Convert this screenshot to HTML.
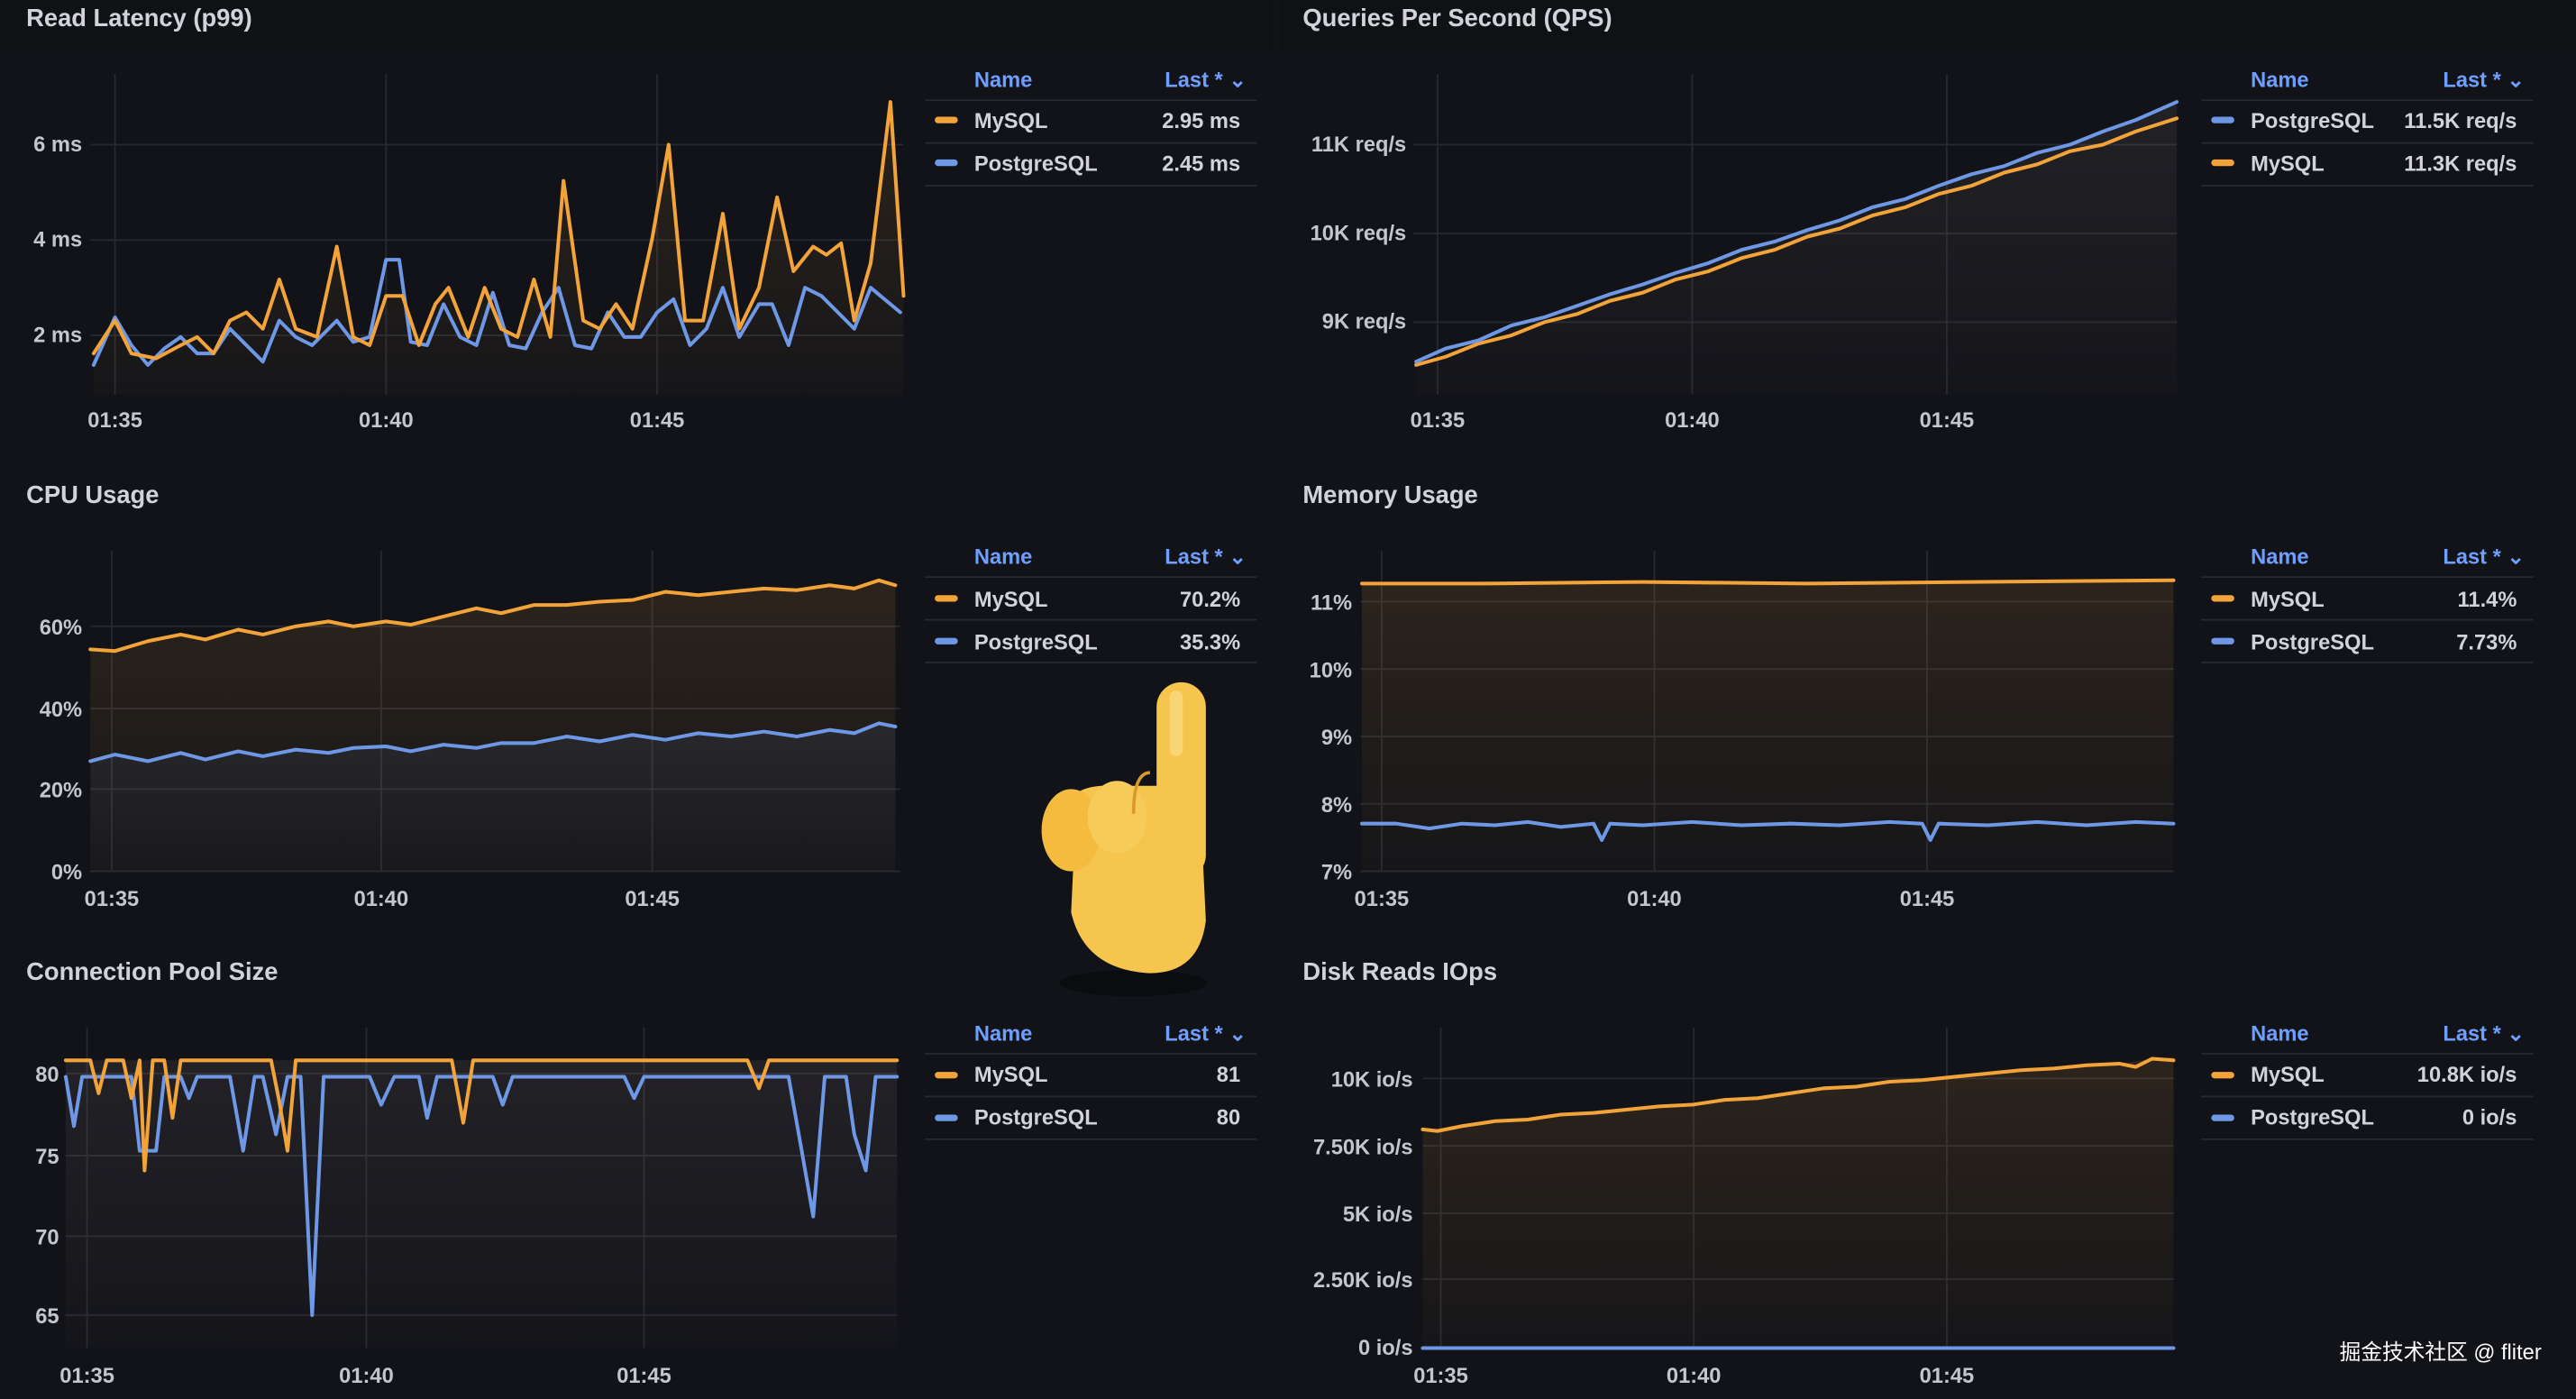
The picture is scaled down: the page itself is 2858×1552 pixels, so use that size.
<!DOCTYPE html>
<html><head><meta charset="utf-8"><style>
html,body{margin:0;padding:0;background:#121318;}
svg{display:block}
text{font-family:"Liberation Sans","Noto Sans CJK SC",sans-serif;font-weight:bold;}
.t{fill:#d2d3da;font-size:15px}
.k{fill:#c4c5ce;font-size:13px}
.g{stroke:#272930;stroke-width:1}
.h{fill:#6e9fff;font-size:13px}
.l{fill:#d2d3da;font-size:13px}
.s{stroke:#272930;stroke-width:1}
.o{fill:none;stroke:#f2a33a;stroke-width:2.2;stroke-linejoin:round;stroke-linecap:round}
.b{fill:none;stroke:#6e98e6;stroke-width:2.2;stroke-linejoin:round;stroke-linecap:round}
</style></head><body>
<svg width="2858" height="1552" viewBox="0 0 1568 851" preserveAspectRatio="none" xmlns="http://www.w3.org/2000/svg">
<defs>
<linearGradient id="fo" x1="0" y1="0" x2="0" y2="1"><stop offset="0" stop-color="#f2a33a" stop-opacity="0.12"/><stop offset="1" stop-color="#f2a33a" stop-opacity="0.02"/></linearGradient>
<linearGradient id="fb" x1="0" y1="0" x2="0" y2="1"><stop offset="0" stop-color="#6e98e6" stop-opacity="0.09"/><stop offset="1" stop-color="#6e98e6" stop-opacity="0.02"/></linearGradient>
<linearGradient id="fg" x1="0" y1="0" x2="0" y2="1"><stop offset="0" stop-color="#8a7a80" stop-opacity="0.14"/><stop offset="1" stop-color="#8a7a80" stop-opacity="0.02"/></linearGradient>
</defs>
<rect width="1568" height="851" fill="#121318"/>
<rect x="0" y="0" width="775" height="30" fill="#101115"/>
<rect x="778" y="0" width="790" height="30" fill="#101115"/>

<!-- Panel 1 Read Latency -->
<text x="16" y="16" class="t">Read Latency (p99)</text>
<g class="g"><line x1="55" y1="88" x2="550" y2="88"/><line x1="55" y1="146" x2="550" y2="146"/><line x1="55" y1="204" x2="550" y2="204"/><line x1="70" y1="45" x2="70" y2="240"/><line x1="235" y1="45" x2="235" y2="240"/><line x1="400" y1="45" x2="400" y2="240"/></g>
<text x="50" y="92" class="k" text-anchor="end">6 ms</text><text x="50" y="150" class="k" text-anchor="end">4 ms</text><text x="50" y="208" class="k" text-anchor="end">2 ms</text>
<text x="70" y="260" class="k" text-anchor="middle">01:35</text><text x="235" y="260" class="k" text-anchor="middle">01:40</text><text x="400" y="260" class="k" text-anchor="middle">01:45</text>
<polygon fill="url(#fo)" points="57,215 70,195 80,215 95,218 110,210 120,205 130,215 140,195 150,190 160,200 170,170 180,200 193,205 205,150 215,205 225,210 235,180 245,180 255,210 265,185 273,175 285,205 295,175 305,200 315,205 325,170 335,205 343,110 355,195 365,200 375,185 385,200 397,145 407,88 417,195 428,195 440,130 450,200 462,175 473,120 483,165 495,150 503,155 512,148 520,195 530,160 542,62 550,180 550,240 57,240"/>
<polyline class="b" points="57,222 70,193 80,210 90,222 100,212 110,205 120,215 130,215 140,200 150,210 160,220 170,195 180,205 190,210 205,195 215,208 225,205 235,158 243,158 250,208 260,210 270,185 280,205 290,210 300,178 310,210 320,212 330,190 340,175 350,210 360,212 370,190 380,205 390,205 400,190 410,182 420,210 430,200 440,175 450,205 462,185 470,185 480,210 490,175 500,180 510,190 520,200 530,175 548,190"/>
<polyline class="o" points="57,215 70,195 80,215 95,218 110,210 120,205 130,215 140,195 150,190 160,200 170,170 180,200 193,205 205,150 215,205 225,210 235,180 245,180 255,210 265,185 273,175 285,205 295,175 305,200 315,205 325,170 335,205 343,110 355,195 365,200 375,185 385,200 397,145 407,88 417,195 428,195 440,130 450,200 462,175 473,120 483,165 495,150 503,155 512,148 520,195 530,160 542,62 550,180"/>
<g>
<text x="593" y="53" class="h">Name</text><text x="709" y="53" class="h">Last * ⌄</text>
<g class="s"><line x1="563" y1="61" x2="765" y2="61"/><line x1="563" y1="87" x2="765" y2="87"/><line x1="563" y1="113" x2="765" y2="113"/></g>
<rect x="569" y="71" width="14" height="4" rx="2" fill="#f2a33a"/><text x="593" y="78" class="l">MySQL</text><text x="755" y="78" class="l" text-anchor="end">2.95 ms</text>
<rect x="569" y="97" width="14" height="4" rx="2" fill="#6e98e6"/><text x="593" y="104" class="l">PostgreSQL</text><text x="755" y="104" class="l" text-anchor="end">2.45 ms</text>
</g>

<!-- Panel 2 QPS -->
<text x="793" y="16" class="t">Queries Per Second (QPS)</text>
<g class="g"><line x1="860" y1="88" x2="1325" y2="88"/><line x1="860" y1="142" x2="1325" y2="142"/><line x1="860" y1="196" x2="1325" y2="196"/><line x1="875" y1="45" x2="875" y2="240"/><line x1="1030" y1="45" x2="1030" y2="240"/><line x1="1185" y1="45" x2="1185" y2="240"/></g>
<text x="856" y="92" class="k" text-anchor="end">11K req/s</text><text x="856" y="146" class="k" text-anchor="end">10K req/s</text><text x="856" y="200" class="k" text-anchor="end">9K req/s</text>
<text x="875" y="260" class="k" text-anchor="middle">01:35</text><text x="1030" y="260" class="k" text-anchor="middle">01:40</text><text x="1185" y="260" class="k" text-anchor="middle">01:45</text>
<polygon fill="url(#fg)" points="862,220 880,212 900,207 920,198 940,193 960,186 980,179 1000,173 1020,166 1040,160 1060,152 1080,147 1100,140 1120,134 1140,126 1160,121 1180,113 1200,106 1220,101 1240,93 1260,88 1280,80 1300,73 1325,62 1325,240 862,240"/>
<polyline class="o" points="862,222 880,217 900,209 920,204 940,196 960,191 980,183 1000,178 1020,170 1040,165 1060,157 1080,152 1100,144 1120,139 1140,131 1160,126 1180,118 1200,113 1220,105 1240,100 1260,92 1280,88 1300,80 1325,72"/>
<polyline class="b" points="862,220 880,212 900,207 920,198 940,193 960,186 980,179 1000,173 1020,166 1040,160 1060,152 1080,147 1100,140 1120,134 1140,126 1160,121 1180,113 1200,106 1220,101 1240,93 1260,88 1280,80 1300,73 1325,62"/>
<g>
<text x="1370" y="53" class="h">Name</text><text x="1487" y="53" class="h">Last * ⌄</text>
<g class="s"><line x1="1340" y1="61" x2="1542" y2="61"/><line x1="1340" y1="87" x2="1542" y2="87"/><line x1="1340" y1="113" x2="1542" y2="113"/></g>
<rect x="1346" y="71" width="14" height="4" rx="2" fill="#6e98e6"/><text x="1370" y="78" class="l">PostgreSQL</text><text x="1532" y="78" class="l" text-anchor="end">11.5K req/s</text>
<rect x="1346" y="97" width="14" height="4" rx="2" fill="#f2a33a"/><text x="1370" y="104" class="l">MySQL</text><text x="1532" y="104" class="l" text-anchor="end">11.3K req/s</text>
</g>

<!-- Panel 3 CPU -->
<text x="16" y="306" class="t">CPU Usage</text>
<g class="g"><line x1="55" y1="381" x2="548" y2="381"/><line x1="55" y1="431" x2="548" y2="431"/><line x1="55" y1="480" x2="548" y2="480"/><line x1="55" y1="530" x2="548" y2="530"/><line x1="68" y1="335" x2="68" y2="530"/><line x1="232" y1="335" x2="232" y2="530"/><line x1="397" y1="335" x2="397" y2="530"/></g>
<text x="50" y="386" class="k" text-anchor="end">60%</text><text x="50" y="436" class="k" text-anchor="end">40%</text><text x="50" y="485" class="k" text-anchor="end">20%</text><text x="50" y="535" class="k" text-anchor="end">0%</text>
<text x="68" y="551" class="k" text-anchor="middle">01:35</text><text x="232" y="551" class="k" text-anchor="middle">01:40</text><text x="397" y="551" class="k" text-anchor="middle">01:45</text>
<polygon fill="url(#fo)" points="55,395 70,396 90,390 110,386 125,389 145,383 160,386 180,381 200,378 215,381 235,378 250,380 270,375 290,370 305,373 325,368 345,368 365,366 385,365 405,360 425,362 445,360 465,358 485,359 505,356 520,358 535,353 545,356 545,530 55,530"/>
<polygon fill="url(#fb)" points="55,463 70,459 90,463 110,458 125,462 145,457 160,460 180,456 200,458 215,455 235,454 250,457 270,453 290,455 305,452 325,452 345,448 365,451 385,447 405,450 425,446 445,448 465,445 485,448 505,444 520,446 535,440 545,442 545,530 55,530"/>
<polyline class="o" points="55,395 70,396 90,390 110,386 125,389 145,383 160,386 180,381 200,378 215,381 235,378 250,380 270,375 290,370 305,373 325,368 345,368 365,366 385,365 405,360 425,362 445,360 465,358 485,359 505,356 520,358 535,353 545,356"/>
<polyline class="b" points="55,463 70,459 90,463 110,458 125,462 145,457 160,460 180,456 200,458 215,455 235,454 250,457 270,453 290,455 305,452 325,452 345,448 365,451 385,447 405,450 425,446 445,448 465,445 485,448 505,444 520,446 535,440 545,442"/>
<g>
<text x="593" y="343" class="h">Name</text><text x="709" y="343" class="h">Last * ⌄</text>
<g class="s"><line x1="563" y1="351" x2="765" y2="351"/><line x1="563" y1="377" x2="765" y2="377"/><line x1="563" y1="403" x2="765" y2="403"/></g>
<rect x="569" y="362" width="14" height="4" rx="2" fill="#f2a33a"/><text x="593" y="369" class="l">MySQL</text><text x="755" y="369" class="l" text-anchor="end">70.2%</text>
<rect x="569" y="388" width="14" height="4" rx="2" fill="#6e98e6"/><text x="593" y="395" class="l">PostgreSQL</text><text x="755" y="395" class="l" text-anchor="end">35.3%</text>
</g>

<!-- Hand -->
<g>
<ellipse cx="690" cy="598" rx="45" ry="8" fill="#000" opacity="0.35"/>
<rect x="704" y="415" width="30" height="120" rx="15" fill="#f6c54e"/>
<path d="M655,490 Q650,480 670,478 L730,478 L734,560 Q730,592 700,592 Q660,590 652,555 Z" fill="#f6c54e"/>
<ellipse cx="652" cy="505" rx="18" ry="25" fill="#f4bb3e"/>
<ellipse cx="680" cy="497" rx="18" ry="22" fill="#f7cb5a"/>
<path d="M700,470 Q690,470 690,495" stroke="#d99a2a" stroke-width="2" fill="none"/>
<rect x="712" y="420" width="8" height="40" rx="4" fill="#fbdc86" opacity="0.7"/>
</g>

<!-- Panel 4 Memory -->
<text x="793" y="306" class="t">Memory Usage</text>
<g class="g"><line x1="828" y1="366" x2="1323" y2="366"/><line x1="828" y1="407" x2="1323" y2="407"/><line x1="828" y1="448" x2="1323" y2="448"/><line x1="828" y1="489" x2="1323" y2="489"/><line x1="828" y1="530" x2="1323" y2="530"/><line x1="841" y1="335" x2="841" y2="530"/><line x1="1007" y1="335" x2="1007" y2="530"/><line x1="1173" y1="335" x2="1173" y2="530"/></g>
<text x="823" y="371" class="k" text-anchor="end">11%</text><text x="823" y="412" class="k" text-anchor="end">10%</text><text x="823" y="453" class="k" text-anchor="end">9%</text><text x="823" y="494" class="k" text-anchor="end">8%</text><text x="823" y="535" class="k" text-anchor="end">7%</text>
<text x="841" y="551" class="k" text-anchor="middle">01:35</text><text x="1007" y="551" class="k" text-anchor="middle">01:40</text><text x="1173" y="551" class="k" text-anchor="middle">01:45</text>
<rect x="829" y="354" width="494" height="176" fill="url(#fo)"/>
<polyline class="o" points="829,355 900,355 1000,354 1100,355 1200,354 1323,353"/>
<polyline class="b" points="829,501 850,501 870,504 890,501 910,502 930,500 950,503 970,501 975,511 980,501 1000,502 1030,500 1060,502 1090,501 1120,502 1150,500 1170,501 1175,511 1180,501 1210,502 1240,500 1270,502 1300,500 1323,501"/>
<g>
<text x="1370" y="343" class="h">Name</text><text x="1487" y="343" class="h">Last * ⌄</text>
<g class="s"><line x1="1340" y1="351" x2="1542" y2="351"/><line x1="1340" y1="377" x2="1542" y2="377"/><line x1="1340" y1="403" x2="1542" y2="403"/></g>
<rect x="1346" y="362" width="14" height="4" rx="2" fill="#f2a33a"/><text x="1370" y="369" class="l">MySQL</text><text x="1532" y="369" class="l" text-anchor="end">11.4%</text>
<rect x="1346" y="388" width="14" height="4" rx="2" fill="#6e98e6"/><text x="1370" y="395" class="l">PostgreSQL</text><text x="1532" y="395" class="l" text-anchor="end">7.73%</text>
</g>

<!-- Panel 5 Connection Pool -->
<text x="16" y="596" class="t">Connection Pool Size</text>
<g class="g"><line x1="40" y1="653" x2="546" y2="653"/><line x1="40" y1="703" x2="546" y2="703"/><line x1="40" y1="752" x2="546" y2="752"/><line x1="40" y1="800" x2="546" y2="800"/><line x1="53" y1="625" x2="53" y2="820"/><line x1="223" y1="625" x2="223" y2="820"/><line x1="392" y1="625" x2="392" y2="820"/></g>
<text x="36" y="658" class="k" text-anchor="end">80</text><text x="36" y="708" class="k" text-anchor="end">75</text><text x="36" y="757" class="k" text-anchor="end">70</text><text x="36" y="805" class="k" text-anchor="end">65</text>
<text x="53" y="841" class="k" text-anchor="middle">01:35</text><text x="223" y="841" class="k" text-anchor="middle">01:40</text><text x="392" y="841" class="k" text-anchor="middle">01:45</text>
<rect x="40" y="645" width="506" height="175" fill="url(#fg)"/>
<polyline class="b" points="40,655 45,685 50,655 80,655 85,700 95,700 100,655 110,655 115,668 120,655 140,655 148,700 155,655 160,655 168,690 175,655 183,655 190,800 197,655 225,655 232,672 240,655 255,655 260,680 266,655 300,655 306,672 312,655 380,655 386,668 392,655 470,655 480,655 488,700 495,740 502,655 515,655 520,690 527,712 533,655 546,655"/>
<polyline class="o" points="40,645 55,645 60,665 65,645 75,645 80,668 85,645 88,712 93,645 100,645 105,680 110,645 165,645 170,670 175,700 180,645 275,645 282,683 288,645 455,645 462,662 468,645 546,645"/>
<g>
<text x="593" y="633" class="h">Name</text><text x="709" y="633" class="h">Last * ⌄</text>
<g class="s"><line x1="563" y1="641" x2="765" y2="641"/><line x1="563" y1="667" x2="765" y2="667"/><line x1="563" y1="693" x2="765" y2="693"/></g>
<rect x="569" y="652" width="14" height="4" rx="2" fill="#f2a33a"/><text x="593" y="658" class="l">MySQL</text><text x="755" y="658" class="l" text-anchor="end">81</text>
<rect x="569" y="678" width="14" height="4" rx="2" fill="#6e98e6"/><text x="593" y="684" class="l">PostgreSQL</text><text x="755" y="684" class="l" text-anchor="end">80</text>
</g>

<!-- Panel 6 Disk -->
<text x="793" y="596" class="t">Disk Reads IOps</text>
<g class="g"><line x1="866" y1="656" x2="1323" y2="656"/><line x1="866" y1="697" x2="1323" y2="697"/><line x1="866" y1="738" x2="1323" y2="738"/><line x1="866" y1="778" x2="1323" y2="778"/><line x1="877" y1="625" x2="877" y2="820"/><line x1="1031" y1="625" x2="1031" y2="820"/><line x1="1185" y1="625" x2="1185" y2="820"/></g>
<text x="860" y="661" class="k" text-anchor="end">10K io/s</text><text x="860" y="702" class="k" text-anchor="end">7.50K io/s</text><text x="860" y="743" class="k" text-anchor="end">5K io/s</text><text x="860" y="783" class="k" text-anchor="end">2.50K io/s</text><text x="860" y="824" class="k" text-anchor="end">0 io/s</text>
<text x="877" y="841" class="k" text-anchor="middle">01:35</text><text x="1031" y="841" class="k" text-anchor="middle">01:40</text><text x="1185" y="841" class="k" text-anchor="middle">01:45</text>
<polygon fill="url(#fo)" points="866,687 890,685 910,682 930,681 950,678 970,677 990,675 1010,673 1030,672 1050,669 1070,668 1090,665 1110,662 1130,661 1150,658 1170,657 1190,655 1210,653 1230,651 1250,650 1270,648 1290,647 1310,644 1323,643 1323,820 866,820"/>
<polyline class="o" points="866,687 875,688 890,685 910,682 930,681 950,678 970,677 990,675 1010,673 1030,672 1050,669 1070,668 1090,665 1110,662 1130,661 1150,658 1170,657 1190,655 1210,653 1230,651 1250,650 1270,648 1290,647 1300,649 1310,644 1323,645"/>
<polyline class="b" points="866,820 1323,820"/>
<g>
<text x="1370" y="633" class="h">Name</text><text x="1487" y="633" class="h">Last * ⌄</text>
<g class="s"><line x1="1340" y1="641" x2="1542" y2="641"/><line x1="1340" y1="667" x2="1542" y2="667"/><line x1="1340" y1="693" x2="1542" y2="693"/></g>
<rect x="1346" y="652" width="14" height="4" rx="2" fill="#f2a33a"/><text x="1370" y="658" class="l">MySQL</text><text x="1532" y="658" class="l" text-anchor="end">10.8K io/s</text>
<rect x="1346" y="678" width="14" height="4" rx="2" fill="#6e98e6"/><text x="1370" y="684" class="l">PostgreSQL</text><text x="1532" y="684" class="l" text-anchor="end">0 io/s</text>
</g>

<text x="1547" y="827" style="fill:#ffffff;font-size:13px;font-weight:normal" text-anchor="end">掘金技术社区 @ fliter</text>
</svg>
</body></html>
